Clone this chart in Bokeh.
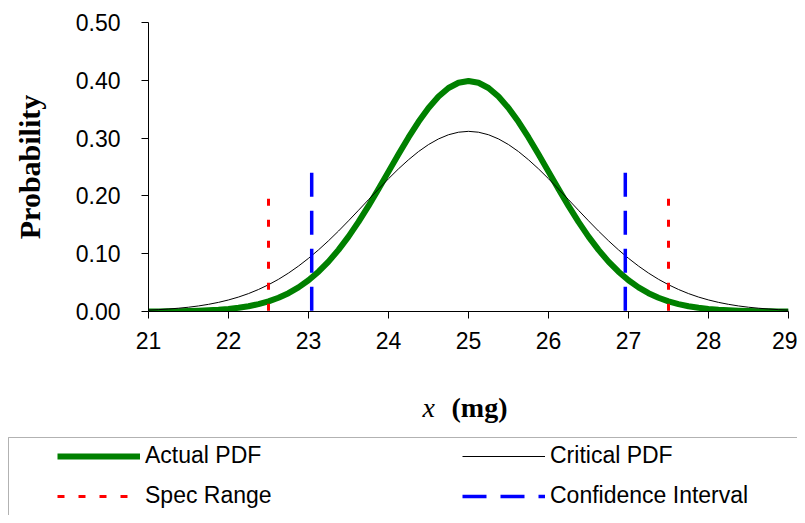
from bokeh.plotting import figure
from bokeh.models import (Legend, LegendItem, BoxAnnotation, Label, FixedTicker,
                          NumeralTickFormatter)
from bokeh.embed import file_html
from bokeh.resources import INLINE

# ---- data ----
x_vals = [21.0, 21.125, 21.25, 21.375, 21.5, 21.625, 21.75, 21.875, 22.0, 22.125, 22.25,
          22.375, 22.5, 22.625, 22.75, 22.875, 23.0, 23.125, 23.25, 23.375, 23.5, 23.625,
          23.75, 23.875, 24.0, 24.125, 24.25, 24.375, 24.5, 24.625, 24.75, 24.875, 25.0,
          25.125, 25.25, 25.375, 25.5, 25.625, 25.75, 25.875, 26.0, 26.125, 26.25, 26.375,
          26.5, 26.625, 26.75, 26.875, 27.0, 27.125, 27.25, 27.375, 27.5, 27.625, 27.75,
          27.875, 28.0, 28.125, 28.25, 28.375, 28.5, 28.625, 28.75, 28.875, 29.0]
actual_pdf = [0.0001, 0.0002, 0.0004, 0.0006, 0.0009, 0.0013, 0.0020, 0.0030, 0.0044,
              0.0064, 0.0091, 0.0127, 0.0175, 0.0238, 0.0317, 0.0417, 0.0540, 0.0688,
              0.0863, 0.1066, 0.1295, 0.1550, 0.1826, 0.2119, 0.2420, 0.2720, 0.3011,
              0.3282, 0.3521, 0.3718, 0.3867, 0.3958, 0.3989, 0.3958, 0.3867, 0.3718,
              0.3521, 0.3282, 0.3011, 0.2720, 0.2420, 0.2119, 0.1826, 0.1550, 0.1295,
              0.1066, 0.0863, 0.0688, 0.0540, 0.0417, 0.0317, 0.0238, 0.0175, 0.0127,
              0.0091, 0.0064, 0.0044, 0.0030, 0.0020, 0.0013, 0.0009, 0.0006, 0.0004,
              0.0002, 0.0001]
critical_pdf = [0.0024, 0.0032, 0.0043, 0.0057, 0.0074, 0.0096, 0.0124, 0.0158, 0.0200,
                0.0250, 0.0310, 0.0381, 0.0463, 0.0557, 0.0665, 0.0786, 0.0920, 0.1066,
                0.1224, 0.1392, 0.1569, 0.1751, 0.1935, 0.2118, 0.2297, 0.2468, 0.2625,
                0.2767, 0.2888, 0.2986, 0.3058, 0.3102, 0.3117, 0.3102, 0.3058, 0.2986,
                0.2888, 0.2767, 0.2625, 0.2468, 0.2297, 0.2118, 0.1935, 0.1751, 0.1569,
                0.1392, 0.1224, 0.1066, 0.0920, 0.0786, 0.0665, 0.0557, 0.0463, 0.0381,
                0.0310, 0.0250, 0.0200, 0.0158, 0.0124, 0.0096, 0.0074, 0.0057, 0.0043,
                0.0032, 0.0024]
spec_x = [22.5, 27.5]
spec_top = [0.195, 0.195]
ci_x = [23.04, 26.96]
ci_top = [0.24, 0.24]
x_ticks = [21, 22, 23, 24, 25, 26, 27, 28, 29]
y_ticks = [0.0, 0.1, 0.2, 0.3, 0.4, 0.5]
zeros2 = [0.0, 0.0]
legend_labels = ["Actual PDF", "Spec Range", "Critical PDF", "Confidence Interval"]

SANS = "Liberation Sans"
SERIF = "Liberation Serif"

GREEN = "#008000"
RED = "#FF0000"
BLUE = "#0000FF"

# ---- main chart ----
p = figure(frame_width=640, frame_height=289, x_range=(21, 29), y_range=(0, 0.5),
           output_backend="svg", toolbar_location=None,
           min_border_left=148, min_border_right=9, min_border_top=22, min_border_bottom=60)
p.outline_line_color = None
p.xgrid.visible = False
p.ygrid.visible = False

p.line(x_vals, actual_pdf, line_color=GREEN, line_width=6, line_join="round")
p.line(x_vals, critical_pdf, line_color="black", line_width=1)
p.segment(x0=spec_x, y0=spec_top, x1=spec_x, y1=zeros2,
          line_color=RED, line_width=3, line_dash="7 14")
p.segment(x0=ci_x, y0=ci_top, x1=ci_x, y1=zeros2,
          line_color=BLUE, line_width=3.5, line_dash="24 14")

for ax in (p.xaxis[0], p.yaxis[0]):
    ax.axis_line_color = "black"
    ax.axis_line_width = 1
    ax.major_tick_line_color = "black"
    ax.major_tick_out = 7
    ax.major_tick_in = 0
    ax.minor_tick_line_color = None
    ax.major_label_text_font = SANS
    ax.major_label_text_font_size = "23px"
    ax.major_label_text_color = "black"

p.xaxis.ticker = FixedTicker(ticks=x_ticks)
p.yaxis.ticker = FixedTicker(ticks=y_ticks)
p.yaxis.formatter = NumeralTickFormatter(format="0.00")
p.xaxis.major_label_standoff = 13
p.yaxis.major_label_standoff = 21

p.yaxis.axis_label = "Probability"
p.yaxis.axis_label_text_font = SERIF
p.yaxis.axis_label_text_font_style = "bold"
p.yaxis.axis_label_text_font_size = "30px"
p.yaxis.axis_label_text_color = "black"
p.yaxis.axis_label_standoff = 27

# ---- bottom strip (separate root): x-axis title and legend ----
H2 = 144
q = figure(width=797, height=H2, x_range=(0, 797), y_range=(0, H2),
           output_backend="svg", toolbar_location=None, min_border=0)
q.outline_line_color = None
q.axis.visible = False
q.grid.visible = False

q.add_layout(Label(x=422, y=H2 - 36, text="x",
                   text_font=SERIF, text_font_style="italic", text_font_size="28px",
                   text_baseline="middle", text_align="left", text_color="black"))
q.add_layout(Label(x=451, y=H2 - 36, text="(mg)",
                   text_font=SERIF, text_font_style="bold", text_font_size="28px",
                   text_baseline="middle", text_align="left", text_color="black"))

q.add_layout(BoxAnnotation(left=8, right=900, top=H2 - 66, bottom=-20,
                           fill_color=None, line_color="black", line_width=1))

# legend sample renderers: same series and styles, hidden in this strip
ra = q.line(x_vals, actual_pdf, line_color=GREEN, line_width=6, visible=False)
rs = q.segment(x0=spec_x, y0=spec_top, x1=spec_x, y1=zeros2, line_color=RED,
               line_width=3, line_dash="7 14", visible=False)
rc = q.line(x_vals, critical_pdf, line_color="black", line_width=1, visible=False)
ri = q.segment(x0=ci_x, y0=ci_top, x1=ci_x, y1=zeros2, line_color=BLUE,
               line_width=3.5, line_dash="24 14", visible=False)

legend = Legend(items=[LegendItem(label=lab, renderers=[r])
                       for lab, r in zip(legend_labels, [ra, rs, rc, ri])],
                location=(57, 6), ncols=2, orientation="vertical",
                border_line_color=None, background_fill_alpha=0.0,
                padding=0, margin=0, spacing=13,
                glyph_width=83, glyph_height=26, label_height=26, label_width=304,
                label_standoff=5, label_text_font=SANS, label_text_font_size="23px",
                label_text_color="black", click_policy="none",
                inactive_fill_alpha=0.0)
q.add_layout(legend, "center")

open("out.html", "w").write(file_html([p, q], INLINE))
